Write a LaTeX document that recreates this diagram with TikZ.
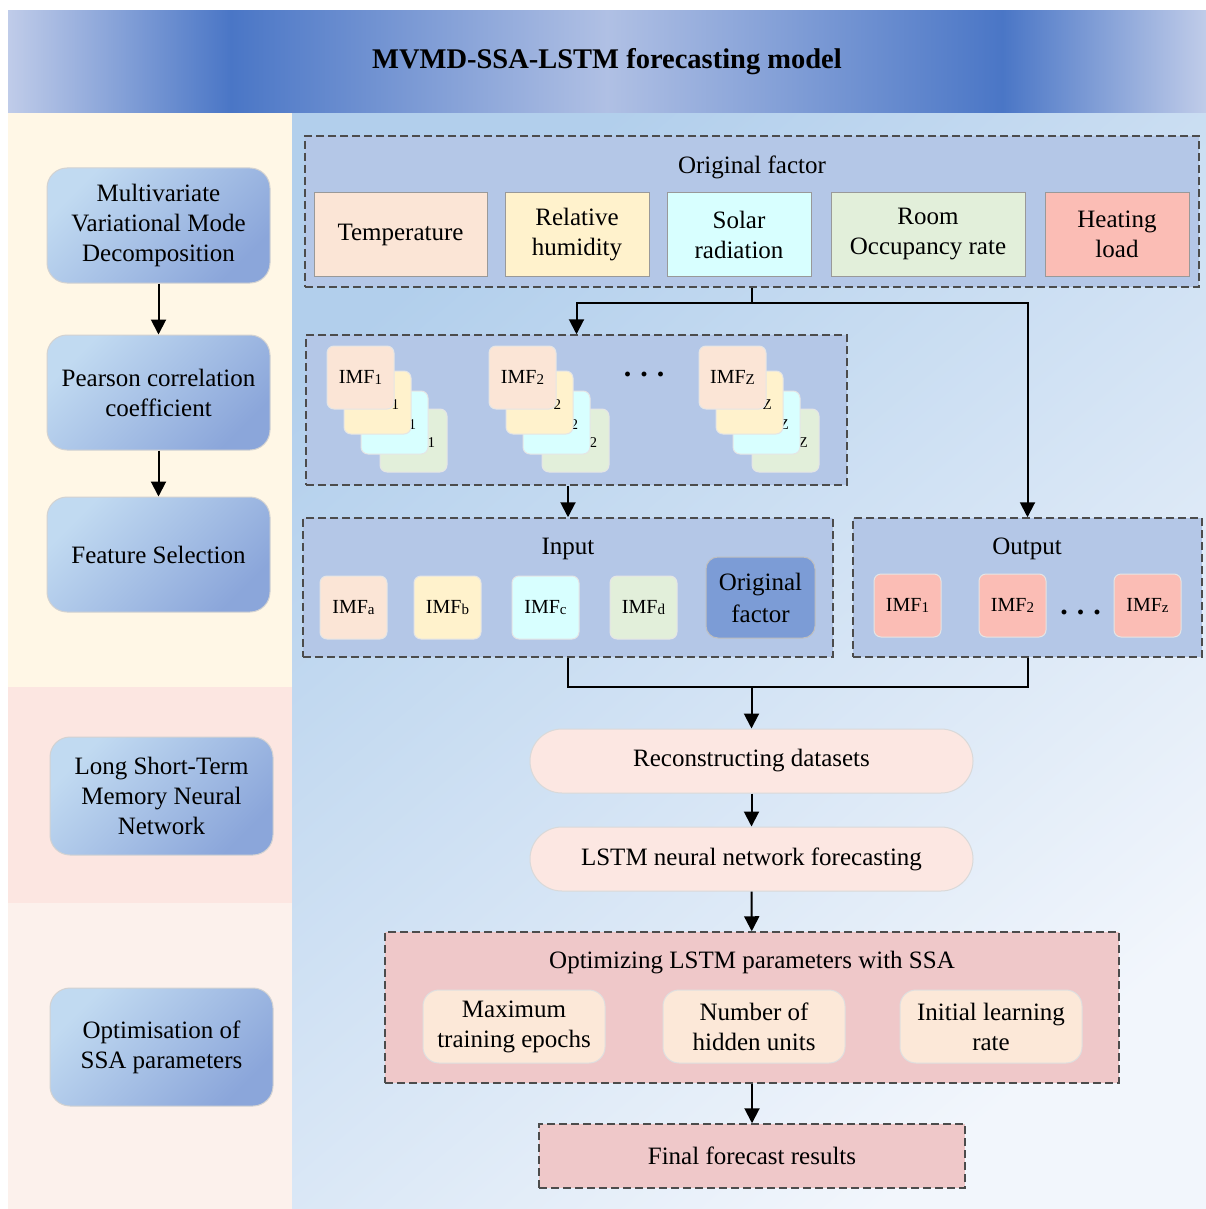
\documentclass[tikz,border=0pt]{standalone}
\usepackage{fontspec}
\setmainfont{Liberation Serif}
\usetikzlibrary{arrows.meta,positioning}

\definecolor{hdlight}{RGB}{192,204,233}
\definecolor{hddark}{RGB}{74,118,198}
\definecolor{hdmid}{RGB}{176,192,228}
\definecolor{creamband}{RGB}{255,247,230}
\definecolor{pinkband}{RGB}{252,230,225}
\definecolor{paleband}{RGB}{252,241,236}
\definecolor{bgtl}{RGB}{178,207,236}
\definecolor{bgbr}{RGB}{242,246,252}
\definecolor{panelblue}{RGB}{180,199,231}
\definecolor{panelpink}{RGB}{239,200,201}
\definecolor{peach}{RGB}{251,229,214}
\definecolor{butter}{RGB}{255,242,204}
\definecolor{icecyan}{RGB}{216,255,255}
\definecolor{sage}{RGB}{226,239,218}
\definecolor{salmon}{RGB}{251,189,181}
\definecolor{deepblue}{RGB}{124,156,214}
\definecolor{blushpill}{RGB}{252,231,226}
\definecolor{paramfill}{RGB}{252,232,216}
\definecolor{stepA}{RGB}{193,218,241}
\definecolor{stepB}{RGB}{139,166,218}

\pgfdeclarehorizontalshading{headerband}{100bp}{color(0bp)=(hdlight); color(25bp)=(hdlight); color(34.3bp)=(hddark); color(50bp)=(hdmid); color(66.5bp)=(hddark); color(75bp)=(hdlight); color(100bp)=(hdlight)}

\newcommand{\imf}[1]{IMF\raisebox{-1pt}{\fontsize{15}{15}\selectfont #1}}
\newcommand{\dotrow}{\textbf{.\hspace{9pt}.\hspace{9pt}.}}

\begin{document}
\begin{tikzpicture}[x=1pt, y=-1pt, font=\fontsize{25}{30}\selectfont,
  flow/.style={-{Triangle[length=15pt,width=15pt]}, line width=2pt},
  link/.style={line width=2pt},
  panel/.style={draw=black!70, line width=1.5pt, dash pattern=on 8pt off 4pt, fill=panelblue, inner sep=0pt},
  stepbox/.style={draw=gray!35, line width=1pt, rounded corners=20pt, shade, top color=stepA, bottom color=stepB, shading angle=45, minimum width=223pt, minimum height=115pt, align=center},
  factor/.style={draw=gray!80, line width=1pt, minimum height=83pt, align=center},
  card/.style={draw=gray!20, line width=1pt, rounded corners=7pt, minimum width=67pt, minimum height=63pt, inner sep=0pt, font=\fontsize{20}{24}\selectfont},
  pill/.style={draw=gray!30, line width=1pt, rounded corners=32pt, fill=blushpill, minimum width=443pt, minimum height=64pt},
  param/.style={draw=gray!25, line width=1pt, rounded corners=16pt, fill=paramfill, minimum width=182pt, minimum height=73pt, align=center}]
	\useasboundingbox (0,0) rectangle (1206,1209);
	% backgrounds
	\fill[creamband] (8,112) rectangle (292,687);
	\fill[pinkband] (8,687) rectangle (292,903);
	\fill[paleband] (8,903) rectangle (292,1209);
	\shade[top color=bgtl, bottom color=bgbr, shading angle=40] (292,112) rectangle (1206,1209);
	\node (header) [shade, shading=headerband, minimum width=1198pt, minimum height=102pt, inner sep=0pt, font=\fontsize{28.5}{34}\selectfont\bfseries] at (607,62) {MVMD-SSA-LSTM forecasting model};

	% left column
	\node[stepbox] (mvmd) at (158.5,225.5) {Multivariate\\Variational Mode\\Decomposition};
	\node[stepbox] (pearson) at (158.5,392.5) {Pearson correlation\\coefficient};
	\node[stepbox] (select) at (158.5,554.5) {Feature Selection};
	\node[stepbox, minimum height=118pt] (lstmnet) at (161.5,796) {Long Short-Term\\Memory Neural\\Network};
	\node[stepbox, minimum height=118pt] (ssapar) at (161.5,1047) {Optimisation of\\SSA parameters};
	\draw[flow] (mvmd) -- (pearson);
	\draw[flow] (pearson) -- (select);

	% original factors
	\node[panel, minimum width=894pt, minimum height=151pt] (origin) at (752,211.5) {};
	\node (originlbl) at (752,167) {Original factor};
	\node[factor, fill=peach, minimum width=173pt] (temp) at (400.5,234.5) {Temperature};
	\node[factor, fill=butter, minimum width=144pt] (humid) at (577,234.5) {Relative\\humidity};
	\node[factor, fill=icecyan, minimum width=144pt] (solar) at (739,234.5) {Solar\\radiation};
	\node[factor, fill=sage, minimum width=194pt] (room) at (928,234.5) {Room\\Occupancy rate};
	\node[factor, fill=salmon, minimum width=144pt] (heat) at (1117,234.5) {Heating\\load};

	% decomposition
	\node[panel, minimum width=541pt, minimum height=150pt] (imfpanel) at (576.5,410) {};
	\node[card, fill=sage] (c14) at (413.5,440.5) {\imf{1}};
	\node[card, fill=icecyan] (c13) at (394.5,422.5) {\imf{1}};
	\node[card, fill=butter] (c12) at (377.5,402.5) {\imf{1}};
	\node[card, fill=peach] (c11) at (360.5,377.5) {\imf{1}};
	\node[card, fill=sage] (c24) at (575.5,440.5) {\imf{2}};
	\node[card, fill=icecyan] (c23) at (556.5,422.5) {\imf{2}};
	\node[card, fill=butter] (c22) at (539.5,402.5) {\imf{2}};
	\node[card, fill=peach] (c21) at (522.5,377.5) {\imf{2}};
	\node[card, fill=sage] (cz4) at (785.5,440.5) {\imf{Z}};
	\node[card, fill=icecyan] (cz3) at (766.5,422.5) {\imf{Z}};
	\node[card, fill=butter] (cz2) at (749.5,402.5) {\imf{Z}};
	\node[card, fill=peach] (cz1) at (732.5,377.5) {\imf{Z}};
	\node[anchor=base, font=\fontsize{30}{30}\selectfont] (imfdots) at (644,376) {\dotrow};
	\draw[link] (origin.south) -- ++(0,15) coordinate (split);
	\draw[flow] (split) -| (imfpanel.north);

	% input and output
	\node[panel, minimum width=530pt, minimum height=139pt] (inpanel) at (568,587.5) {};
	\node (inlbl) at (568,549) {Input};
	\node[card, fill=peach] (ina) at (353.5,607.5) {\imf{a}};
	\node[card, fill=butter] (inb) at (447.5,607.5) {\imf{b}};
	\node[card, fill=icecyan] (inc) at (545.5,607.5) {\imf{c}};
	\node[card, fill=sage] (ind) at (643.5,607.5) {\imf{d}};
	\node[card, fill=deepblue, minimum width=109pt, minimum height=81pt, rounded corners=12pt, draw=gray!50, align=center, font=\fontsize{25}{32}\selectfont] (inorig) at (760.5,597.5) {Original\\factor};
	\node[panel, minimum width=349pt, minimum height=139pt] (outpanel) at (1027.5,587.5) {};
	\node (outlbl) at (1027,549) {Output};
	\node[card, fill=salmon] (out1) at (907.5,605.5) {\imf{1}};
	\node[card, fill=salmon] (out2) at (1012.5,605.5) {\imf{2}};
	\node[card, fill=salmon] (outz) at (1147.5,605.5) {\imf{z}};
	\node[anchor=base, font=\fontsize{30}{30}\selectfont] (outdots) at (1080.5,614) {\dotrow};
	\draw[flow] (split) -| (outpanel.north);
	\draw[flow] (imfpanel.south -| inpanel.north) -- (inpanel.north);

	% forecasting chain
	\node[pill] (recon) at (751.5,761) {Reconstructing datasets};
	\node[pill] (lstmfc) at (751.5,859) {LSTM neural network forecasting};
	\coordinate (merge) at (751.5,686);
	\draw[link] (inpanel.south) -- ++(0,29) -| (outpanel.south);
	\draw[flow] (merge) -- (recon.north);
	\draw[flow] (recon) -- (lstmfc);

	\node[panel, fill=panelpink, minimum width=734pt, minimum height=151pt] (optim) at (752,1007.5) {};
	\node (optimlbl) at (752,963) {Optimizing LSTM parameters with SSA};
	\node[param] (epochs) at (514,1026.5) {Maximum\\training epochs};
	\node[param] (hidden) at (754,1026.5) {Number of\\hidden units};
	\node[param] (lrate) at (991,1026.5) {Initial learning\\rate};
	\draw[flow] (lstmfc) -- (optim);

	\node[panel, fill=panelpink, minimum width=426pt, minimum height=64pt] (final) at (752,1156) {Final forecast results};
	\draw[flow] (optim) -- (final);
\end{tikzpicture}
\end{document}
